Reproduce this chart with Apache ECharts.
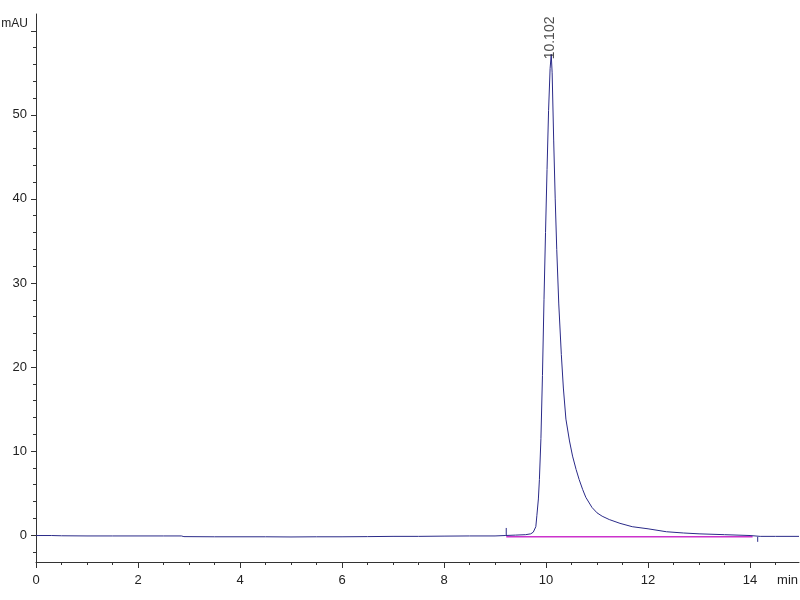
<!DOCTYPE html>
<html>
<head>
<meta charset="utf-8">
<script src="https://cdn.jsdelivr.net/npm/echarts@6/dist/echarts.min.js"></script>
<style>html,body{margin:0;padding:0;background:#fff}#c{width:800px;height:600px}</style>
</head>
<body>
<div id="c"></div>
<script>
// Chromatogram trace (time in min, signal in mAU)
var times = [0, 0.3, 0.5, 1.0, 1.5, 2.0, 2.5, 2.85, 2.9, 3.5, 4, 4.5, 5, 5.5, 6, 6.5, 7, 7.5, 8, 8.5, 9, 9.2, 9.4, 9.6, 9.7, 9.75, 9.8, 9.82, 9.85, 9.87, 9.9, 9.93, 9.96, 9.99, 10.02, 10.05, 10.08, 10.102, 10.12, 10.15, 10.18, 10.21, 10.25, 10.3, 10.34, 10.39, 10.46, 10.52, 10.59, 10.65, 10.72, 10.78, 10.9, 11.0, 11.1, 11.24, 11.45, 11.69, 12.0, 12.36, 12.7, 13.0, 13.5, 14.0, 14.2, 14.5, 14.96];
var signal = [-0.05, -0.05, -0.08, -0.1, -0.1, -0.1, -0.1, -0.1, -0.18, -0.2, -0.2, -0.2, -0.22, -0.2, -0.2, -0.18, -0.15, -0.15, -0.12, -0.1, -0.1, -0.05, 0.0, 0.05, 0.15, 0.35, 1.0, 2.3, 4.3, 6.6, 11.5, 19.0, 28.0, 36.0, 43.5, 50.5, 55.5, 57.2, 55.0, 47.0, 40.0, 34.0, 27.5, 21.5, 17.5, 13.8, 11.2, 9.4, 7.8, 6.6, 5.4, 4.5, 3.3, 2.65, 2.25, 1.85, 1.4, 1.0, 0.75, 0.4, 0.25, 0.15, 0.05, -0.05, -0.15, -0.15, -0.15];
// Integration baseline and markers
var baseTimes = [9.22, 14.05];
var baseValues = [-0.2, -0.2];
var startMark = [[9.22, -0.1], [9.22, 0.85]];
var endMark = [[14.15, -0.2], [14.15, -0.8]];
// Peak annotation
var peakTime = 10.102;
var peakValue = 57.2;
var peakLabel = '10.102';
// Axis ticks
var xMajor = [0, 2, 4, 6, 8, 10, 12, 14];
var xMinor = [0.5, 1, 1.5, 2.5, 3, 3.5, 4.5, 5, 5.5, 6.5, 7, 7.5, 8.5, 9, 9.5, 10.5, 11, 11.5, 12.5, 13, 13.5, 14.5];
var yMajorTicks = [0, 10, 20, 30, 40, 50, 60];
var yLabels = [0, 10, 20, 30, 40, 50];
var yMinor = [-2, 2, 4, 6, 8, 12, 14, 16, 18, 22, 24, 26, 28, 32, 34, 36, 38, 42, 44, 46, 48, 52, 54, 56, 58];

var FONT = "'Liberation Sans', Arial, sans-serif";
var FS = 13;
var AX = '#333333';
var XMIN = 0, XMAX = 14.96, YMIN = -3.2, YMAX = 62;

var trace = times.map(function (t, i) { return [t, signal[i]]; });
var base = baseTimes.map(function (t, i) { return [t, baseValues[i]]; });

var chart = echarts.init(document.getElementById('c'));
chart.setOption({
  animation: false,
  grid: { left: 36, right: 1, top: 14, bottom: 38, outerBoundsMode: 'none', containLabel: false },
  xAxis: [{
    type: 'value', min: XMIN, max: XMAX, position: 'bottom', offset: 0,
    axisLine: { show: true, onZero: false, lineStyle: { color: AX, width: 1 } },
    axisTick: { show: true, customValues: xMajor, length: 6, lineStyle: { color: AX } },
    axisLabel: { customValues: xMajor, margin: 12, color: '#222', fontFamily: FONT, fontSize: FS },
    splitLine: { show: false },
    name: 'min', nameLocation: 'end', nameGap: 0,
    nameTextStyle: { align: 'right', verticalAlign: 'top', padding: [12, 1, 0, 0], color: '#222', fontFamily: FONT, fontSize: FS }
  }, {
    type: 'value', min: XMIN, max: XMAX, position: 'bottom', offset: 0,
    axisLine: { show: true, onZero: false, lineStyle: { color: AX, width: 1, opacity: 0 } },
    axisTick: { show: true, customValues: xMinor, length: 3, lineStyle: { color: AX } },
    axisLabel: { show: false }, splitLine: { show: false }
  }],
  yAxis: [{
    type: 'value', min: YMIN, max: YMAX, position: 'left', offset: 0,
    axisLine: { show: true, onZero: false, lineStyle: { color: AX, width: 1 } },
    axisTick: { show: true, customValues: yMajorTicks, length: 5, lineStyle: { color: AX } },
    axisLabel: { customValues: yLabels, margin: 9, color: '#222', fontFamily: FONT, fontSize: FS },
    splitLine: { show: false },
    name: 'mAU', nameLocation: 'end', nameGap: -10,
    nameTextStyle: { align: 'right', verticalAlign: 'middle', padding: [0, 8, 0, 0], color: '#222', fontFamily: FONT, fontSize: 12 }
  }, {
    type: 'value', min: YMIN, max: YMAX, position: 'left', offset: 0,
    axisLine: { show: true, onZero: false, lineStyle: { color: AX, width: 1, opacity: 0 } },
    axisTick: { show: true, customValues: yMinor, length: 3, lineStyle: { color: AX } },
    axisLabel: { show: false }, splitLine: { show: false }
  }],
  series: [{
    type: 'line', data: base, xAxisIndex: 0, yAxisIndex: 0,
    showSymbol: false, lineStyle: { color: '#cc33cc', width: 1.5 }, silent: true, z: 2
  }, {
    type: 'line', data: trace, xAxisIndex: 0, yAxisIndex: 0,
    showSymbol: false, lineStyle: { color: '#2a2a88', width: 1 }, silent: true, z: 3
  }, {
    type: 'line', data: startMark, showSymbol: false, lineStyle: { color: '#2a2a88', width: 1 }, silent: true, z: 3
  }, {
    type: 'line', data: endMark, showSymbol: false, lineStyle: { color: '#2a2a88', width: 1 }, silent: true, z: 3
  }, {
    type: 'scatter', data: [[peakTime, peakValue]], symbolSize: 1, itemStyle: { color: 'rgba(0,0,0,0)' }, silent: true, z: 4,
    label: {
      show: true, formatter: peakLabel, rotate: 90, position: 'inside',
      align: 'left', verticalAlign: 'middle', offset: [-5, -1.5],
      color: '#222', fontFamily: FONT, fontSize: 14
    }
  }]
});
</script>
</body>
</html>
